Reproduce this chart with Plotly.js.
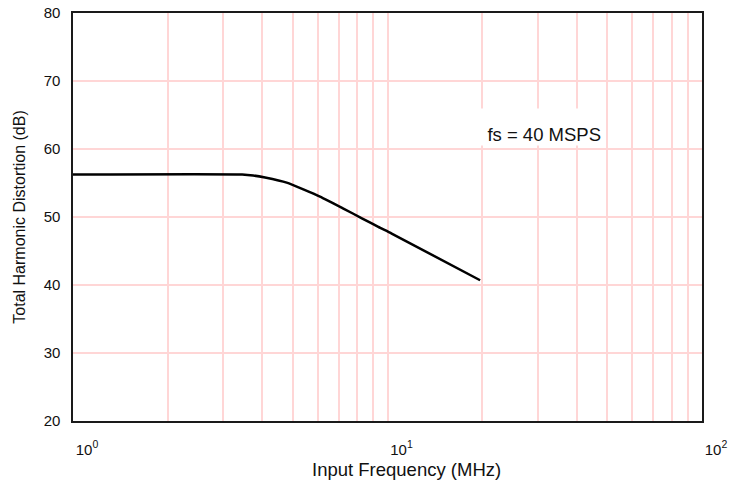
<!DOCTYPE html>
<html>
<head>
<meta charset="utf-8">
<script src="https://cdn.plot.ly/plotly-3.0.1.min.js"></script>
<style>html,body{margin:0;padding:0;background:#fff;}#chart{width:729px;height:480px;}</style>
</head>
<body>
<div id="chart"></div>
<script>
// Data
const freqMHz = [1, 3.45, 3.74, 4.08, 4.78, 6.10, 7.24, 8.32, 9.35, 10.31, 19.7];
const thdDb   = [56.25, 56.25, 56.1, 55.8, 55.05, 53.0, 51.24, 49.77, 48.54, 47.56, 40.7];

const xTickVals = [1, 10, 100];
const xTickText = ['10<sup>0</sup>', '10<sup>1</sup>', '10<sup>2</sup>'];
const xMinorVals = [2,3,4,5,6,7,8,9,20,30,40,50,60,70,80,90];
const yTickVals = [20,30,40,50,60,70,80];
const yTickText = ['20','30','40','50','60','70','80'];

const xTitle = 'Input Frequency (MHz)';
const yTitle = 'Total Harmonic Distortion (dB)';
const noteText = 'fs = 40 MSPS';
const noteFreq = 30.5;
const noteDb = 63.3;

const font = 'Liberation Sans, Arial, Helvetica, sans-serif';
const gridColor = '#ffd6d6';

const trace = {
  x: freqMHz, y: thdDb, type: 'scatter', mode: 'lines',
  line: {color: '#000', width: 2.5, shape: 'spline', smoothing: 0.5}, showlegend: false, hoverinfo: 'skip'
};

const layout = {
  width: 729, height: 480,
  margin: {l: 73, r: 27, t: 13, b: 59},
  paper_bgcolor: '#fff', plot_bgcolor: '#fff',
  font: {family: font, color: '#111'},
  xaxis: {
    type: 'log', range: [0, 2],
    tickmode: 'array', tickvals: xTickVals, ticktext: xTickText,
    showgrid: true, gridcolor: gridColor, gridwidth: 2,
    minor: {tickmode: 'array', tickvals: xMinorVals, showgrid: true, gridcolor: gridColor, gridwidth: 2, ticks: ''},
    showline: true, mirror: true, linecolor: '#1a1a1a', linewidth: 1.6,
    ticks: '', zeroline: false,
    tickfont: {family: font, size: 15, color: '#111'},
    ticklabelshift: 14, ticklabelstandoff: 14, ticklabeloverflow: 'allow'
  },
  yaxis: {
    range: [20, 80],
    tickmode: 'array', tickvals: yTickVals, ticktext: yTickText,
    showgrid: true, gridcolor: gridColor, gridwidth: 2,
    showline: true, mirror: true, linecolor: '#1a1a1a', linewidth: 1.6,
    ticks: '', zeroline: false,
    tickfont: {family: font, size: 15, color: '#111'},
    ticklabelstandoff: 8,
    title: {text: yTitle, font: {family: font, size: 16, color: '#111'}, standoff: 14}
  },
  annotations: [
    {
      text: xTitle, xref: 'paper', yref: 'paper', x: 0.531, y: 0,
      xanchor: 'center', yanchor: 'middle', yshift: -48, showarrow: false,
      font: {family: font, size: 18.5, color: '#111'}
    },
    {
      text: noteText, xref: 'x', yref: 'y', x: Math.log10(noteFreq), y: noteDb,
      showarrow: false, bgcolor: '#fff', borderpad: 0,
      width: 122, height: 36, align: 'right', valign: 'bottom',
      font: {family: font, size: 18.5, color: '#111'}
    }
  ]
};

Plotly.newPlot('chart', [trace], layout, {staticPlot: true, displayModeBar: false});
</script>
</body>
</html>
